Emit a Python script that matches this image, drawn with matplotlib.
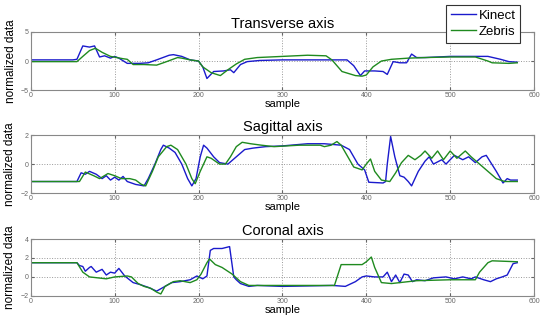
import matplotlib
matplotlib.use('Agg')
import matplotlib.pyplot as plt

plt.rcParams['font.family'] = ['Liberation Sans', 'DejaVu Sans']

# ---- Transverse axis ----
trans_kinect_x = [0, 50, 55, 62, 70, 76, 82, 88, 95, 100, 105, 115, 130, 140, 150, 165, 170, 180,
                  190, 200, 205, 210, 218, 230, 238, 242, 250, 258, 273, 300, 340, 377, 385, 393,
                  398, 410, 420, 425, 432, 440, 448, 454, 460, 470, 500, 545, 560, 570, 580]
trans_kinect_y = [0.2, 0.2, 0.3, 2.6, 2.4, 2.6, 0.7, 0.9, 0.5, 0.8, 0.5, -0.4, -0.4, -0.3, 0.2, 1.0,
                  1.1, 0.8, 0.2, 0.0, -1.0, -3.0, -1.8, -1.7, -1.5, -2.0, -0.6, -0.1, 0.1, 0.2, 0.2,
                  0.2, -0.8, -2.5, -1.7, -1.7, -1.8, -2.3, -0.1, -0.3, -0.3, 1.2, 0.6, 0.6, 0.8, 0.8,
                  0.3, -0.1, -0.2]
trans_zebris_x = [0, 55, 62, 70, 77, 85, 95, 110, 115, 122, 135, 150, 160, 175, 180, 190, 200, 205,
                  215, 226, 235, 245, 255, 270, 300, 330, 352, 359, 371, 387, 395, 400, 408, 418,
                  430, 450, 470, 500, 530, 545, 550, 570, 580]
trans_zebris_y = [-0.1, -0.1, 0.8, 1.8, 2.2, 1.5, 0.8, 0.4, 0.3, -0.6, -0.6, -0.7, -0.2, 0.6, 0.5,
                  0.2, 0.0, -1.0, -2.0, -2.5, -1.5, -0.5, 0.3, 0.6, 0.8, 1.0, 0.9, 0.2, -1.8, -2.5,
                  -2.6, -2.4, -1.0, 0.0, 0.3, 0.5, 0.6, 0.7, 0.7, 0.0, -0.3, -0.4, -0.3]

# ---- Sagittal axis ----
sag_kinect_x = [0, 55, 60, 65, 70, 78, 85, 90, 95, 100, 105, 110, 115, 125, 135, 140, 148, 155, 158,
                165, 172, 180, 187, 192, 197, 202, 206, 210, 218, 225, 235, 245, 255, 265, 280, 300,
                330, 350, 370, 380, 390, 398, 403, 420, 423, 425, 429, 434, 440, 445, 450, 454, 462,
                470, 475, 480, 490, 495, 505, 515, 522, 530, 538, 543, 555, 563, 568, 572, 580]
sag_kinect_y = [-1.2, -1.2, -0.6, -0.7, -0.5, -0.7, -1.0, -0.8, -1.1, -0.9, -1.1, -0.85, -1.2, -1.4,
                -1.5, -1.0, 0.0, 1.0, 1.3, 1.1, 0.8, 0.0, -1.0, -1.5, -1.0, 0.5, 1.3, 1.1, 0.5, 0.1,
                0.0, 0.5, 1.0, 1.1, 1.2, 1.25, 1.4, 1.4, 1.3, 1.0, 0.0, -0.4, -1.25, -1.3, -1.2, 0.0,
                1.9, 0.5, -0.8, -0.9, -1.2, -1.5, -0.5, 0.2, 0.5, 0.0, 0.3, 0.0, 0.6, 0.3, 0.5, 0.1,
                0.5, 0.6, -0.5, -1.3, -1.0, -1.1, -1.1]
sag_zebris_x = [0, 58, 65, 75, 82, 92, 100, 108, 118, 125, 132, 137, 145, 152, 162, 167, 175, 185,
                192, 196, 202, 210, 215, 225, 232, 238, 245, 252, 262, 275, 290, 320, 345, 350, 358,
                365, 370, 378, 385, 395, 400, 405, 410, 418, 428, 435, 442, 450, 458, 465, 470, 478,
                485, 492, 500, 508, 518, 525, 535, 545, 555, 565, 580]
sag_zebris_y = [-1.2, -1.2, -0.55, -0.8, -1.0, -0.65, -0.8, -1.0, -1.0, -1.1, -1.4, -1.5, -0.5, 0.5,
                1.2, 1.3, 1.0, 0.0, -1.0, -1.35, -0.5, 0.5, 0.4, 0.0, 0.0, 0.5, 1.2, 1.5, 1.4, 1.3,
                1.2, 1.3, 1.3, 1.2, 1.3, 1.55, 1.3, 0.5, -0.2, -0.4, 0.0, 0.35, -0.5, -1.1, -1.2,
                -0.6, 0.1, 0.6, 0.3, 0.6, 0.9, 0.4, 0.9, 0.3, 0.9, 0.4, 0.9, 0.5, 0.0, -0.5, -1.0,
                -1.2, -1.2]

# ---- Coronal axis ----
cor_kinect_x = [0, 55, 58, 62, 65, 70, 72, 78, 85, 90, 95, 100, 105, 112, 122, 130, 140, 150, 160,
                168, 178, 190, 198, 205, 210, 214, 218, 228, 237, 242, 245, 250, 260, 270, 300, 360,
                375, 387, 395, 400, 410, 420, 425, 430, 435, 440, 445, 450, 455, 460, 470, 480, 495,
                505, 515, 525, 530, 540, 548, 555, 562, 568, 575, 580]
cor_kinect_y = [1.5, 1.5, 1.2, 1.1, 0.6, 1.0, 1.1, 0.5, 0.8, 0.2, 0.5, 0.4, 0.9, 0.1, -0.6, -0.8,
                -1.1, -1.5, -1.0, -0.6, -0.5, -0.3, 0.1, -0.2, 0.1, 2.8, 3.0, 3.0, 3.2, 0.0, -0.3,
                -0.7, -1.0, -0.9, -1.0, -0.9, -1.0, -0.5, 0.0, 0.1, 0.0, 0.0, 0.5, -0.5, 0.2, -0.6,
                0.3, 0.2, -0.5, -0.3, -0.4, -0.1, 0.0, -0.2, 0.0, -0.2, 0.0, -0.3, -0.5, -0.2, 0.0,
                0.2, 1.4, 1.5]
cor_zebris_x = [0, 55, 62, 70, 80, 90, 100, 115, 120, 128, 135, 143, 150, 155, 160, 170, 178, 190,
                198, 203, 210, 213, 220, 228, 240, 250, 260, 300, 362, 370, 395, 400, 406, 410, 418,
                430, 440, 460, 500, 530, 535, 545, 550, 580]
cor_zebris_y = [1.5, 1.5, 0.5, 0.0, -0.1, -0.2, 0.0, 0.1, 0.0, -0.7, -1.0, -1.2, -1.6, -1.8, -1.0,
                -0.5, -0.4, -0.6, -0.3, 0.3, 1.5, 1.9, 1.3, 1.0, 0.3, -0.5, -0.9, -0.9, -0.9, 1.3,
                1.3, 1.6, 2.1, 1.0, -0.6, -0.7, -0.6, -0.4, -0.3, -0.3, 0.5, 1.5, 1.7, 1.6]

titles = ['Transverse axis', 'Sagittal axis', 'Coronal axis']
ylims = [(-5, 5), (-2, 2), (-2, 4)]
yticks = [[-5, 0, 5], [-2, 0, 2], [-2, 0, 2, 4]]
kinect_series = [(trans_kinect_x, trans_kinect_y), (sag_kinect_x, sag_kinect_y),
                 (cor_kinect_x, cor_kinect_y)]
zebris_series = [(trans_zebris_x, trans_zebris_y), (sag_zebris_x, sag_zebris_y),
                 (cor_zebris_x, cor_zebris_y)]

blue = '#1a1acc'
green = '#1f8a1f'

fig = plt.figure(figsize=(5.5, 3.23), dpi=100)
fig.patch.set_facecolor('white')
positions = [[0.056, 0.721, 0.915, 0.180],
             [0.056, 0.402, 0.915, 0.180],
             [0.056, 0.084, 0.915, 0.176]]

for i in range(3):
    ax = fig.add_axes(positions[i])
    kx, ky = kinect_series[i]
    zx, zy = zebris_series[i]
    lk, = ax.plot(kx, ky, color=blue, lw=1.0, label='Kinect')
    lz, = ax.plot(zx, zy, color=green, lw=1.0, label='Zebris')
    ax.set_xlim(0, 600)
    ax.set_ylim(*ylims[i])
    ax.set_xticks([0, 100, 200, 300, 400, 500, 600])
    ax.set_yticks(yticks[i])
    ax.grid(True, color='#999999', linestyle=':', linewidth=0.7)
    ax.tick_params(direction='in', labelsize=5, colors='#666666', length=2.5,
                   top=True, right=True, pad=1.5)
    for sp in ax.spines.values():
        sp.set_color('#888888')
        sp.set_linewidth(0.8)
    ax.set_title(titles[i], fontsize=10.5, pad=3)
    ax.set_xlabel('sample', fontsize=8, labelpad=0)
    ax.set_ylabel('normalized data', fontsize=8.5, labelpad=3)
    if i == 0:
        handles = [lk, lz]

leg = fig.legend(handles, ['Kinect', 'Zebris'], loc='upper right',
                 bbox_to_anchor=(0.946, 0.985), fontsize=9.5, handlelength=1.9,
                 handletextpad=0.2, borderpad=0.35, labelspacing=0.3,
                 fancybox=False, framealpha=1, borderaxespad=0)
leg.get_frame().set_edgecolor('#333333')
leg.get_frame().set_linewidth(0.8)

fig.savefig('out.png', dpi=100)
